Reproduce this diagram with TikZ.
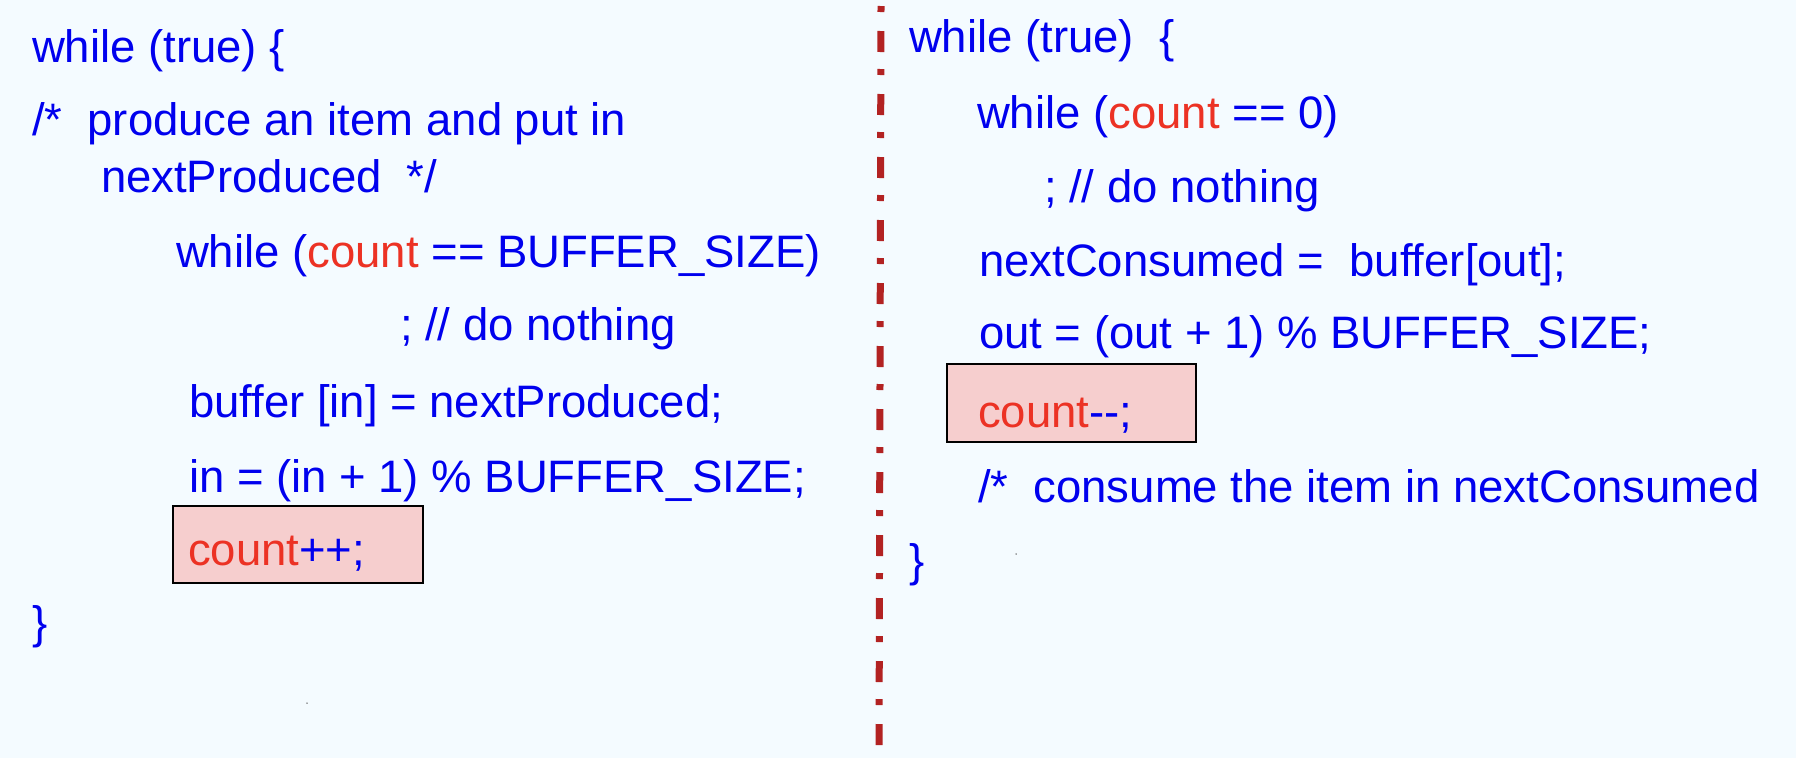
\documentclass[tikz,border=0pt]{standalone}
\usepackage{fontspec}
\setmainfont{Liberation Sans}
\definecolor{bgc}{RGB}{244,251,255}
\definecolor{codeblue}{RGB}{0,0,238}
\definecolor{codered}{RGB}{236,50,36}
\definecolor{boxfill}{RGB}{246,206,206}
\definecolor{divred}{RGB}{178,34,34}
\tikzset{
  code/.style={anchor=base west, inner sep=0pt, outer sep=0pt, text=codeblue,
    font=\fontsize{45.5}{54}\selectfont},
  hlbox/.style={draw=black, line width=2.6pt, fill=boxfill, anchor=north west,
    inner sep=0pt, outer sep=0pt},
  divider/.style={draw=divred, line width=7pt,
    dash pattern=on 6pt off 19pt on 21pt off 17pt},
  speck/.style={fill=black!70, inner sep=0pt, minimum size=1.5pt, circle}
}
\newcommand{\rc}[1]{\textcolor{codered}{#1}}
\begin{document}
\begin{tikzpicture}[x=1pt,y=-1pt]
\fill[bgc] (0,0) rectangle (1796,758);
\useasboundingbox (0,0) rectangle (1796,758);
% divider
\coordinate (dtop) at (881,6);
\coordinate (dbot) at (879,758);
\draw[divider] (dtop) -- (dbot);
% highlight boxes
\node[hlbox, minimum width=250pt, minimum height=77pt] (pbox) at (173,506) {};
\node[hlbox, minimum width=249pt, minimum height=78pt] (cbox) at (947,364) {};
% producer
\node[code] (p1) at (32,62) {while (true) \{};
\node[code] (p2) at (32,135) {/*\ \ produce an item and put in};
\node[code] (p3) at (101,192) {nextProduced\ \ */};
\node[code] (p4) at (176,267) {while (\rc{count} == BUFFER\_SIZE)};
\node[code] (p5) at (400,340) {; // do nothing};
\node[code] (p6) at (189,417) {buffer [in] = nextProduced;};
\node[code] (p7) at (189,492) {in = (in + 1) \% BUFFER\_SIZE;};
\node[code] (p8) at (188,565) {\rc{count}++;};
\node[code] (p9) at (32,638) {\}};
% consumer
\node[code] (c1) at (909,52) {while (true)\ \ \{};
\node[code] (c2) at (977,128) {while (\rc{count} == 0)};
\node[code] (c3) at (1044,202) {; // do nothing};
\node[code] (c4) at (979,276) {nextConsumed =\ \ buffer[out];};
\node[code] (c5) at (979,348) {out = (out + 1) \% BUFFER\_SIZE;};
\node[code] (c6) at (978,427) {\rc{count}-{}-;};
\node[code] (c7) at (978,502) {/*\ \ consume the item in nextConsumed};
\node[code] (c8) at (909,576) {\}};
% tiny specks
\node[speck] (s1) at (307,703) {};
\node[speck] (s2) at (1016,554) {};
\end{tikzpicture}
\end{document}
